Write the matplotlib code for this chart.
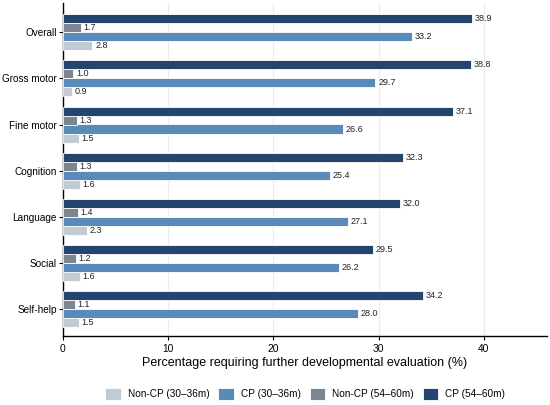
import numpy as np
import matplotlib
matplotlib.use('Agg')
import matplotlib.pyplot as plt

plt.rcParams['font.family'] = ['Liberation Sans', 'DejaVu Sans']

# ------------------
# data

domains = ['Overall', 'Gross motor', 'Fine motor', 'Cognition', 'Language', 'Social', 'Self-help']

noncp_30 = [2.8, 0.9, 1.5, 1.6, 2.3, 1.6, 1.5]
cp_30 = [33.2, 29.7, 26.6, 25.4, 27.1, 26.2, 28.0]
noncp_54 = [1.7, 1.0, 1.3, 1.3, 1.4, 1.2, 1.1]
cp_54 = [38.9, 38.8, 37.1, 32.3, 32.0, 29.5, 34.2]

series_names = ['Non-CP (30–36m)', 'CP (30–36m)', 'Non-CP (54–60m)', 'CP (54–60m)']
series_vals = [noncp_30, cp_30, noncp_54, cp_54]
colors = ['#c2cad3', '#5a8ab9', '#7d8690', '#24466e']

# offsets within a group (y axis inverted: negative = higher)
offsets = [0.292, 0.097, -0.097, -0.292]
bar_h = 0.195

fig = plt.figure(figsize=(5.5, 4.05), dpi=100)
ax = fig.add_axes((0.1145, 0.170, 0.88, 0.8226))

y = np.arange(len(domains))

for vals, name, col, off in zip(series_vals, series_names, colors, offsets):
    ax.barh(y + off, vals, height=bar_h, color=col, edgecolor='white', lw=0.6, label=name, zorder=3)
    for yi, v in zip(y, vals):
        ax.text(v + 0.25, yi + off, f'{v:.1f}', va='center', ha='left', fontsize=6.5, color='#222222', zorder=4)

ax.set_yticks(y)
ax.set_yticklabels(domains, fontsize=7.2)
ax.set_ylim(6.58, -0.63)

ax.set_xlim(0, 46)
ax.set_xticks([0, 10, 20, 30, 40])
ax.tick_params(axis='x', labelsize=7.4, length=3, width=0.8, pad=2.5)
ax.tick_params(axis='y', length=3, width=0.8, pad=1.5)
ax.set_xlabel('Percentage requiring further developmental evaluation (%)', fontsize=9.0, labelpad=2)

ax.grid(axis='x', color='#ebebeb', lw=0.8, zorder=0)
for s in ['top', 'right']:
    ax.spines[s].set_visible(False)
for s in ['left', 'bottom']:
    ax.spines[s].set_linewidth(1.0)
    ax.spines[s].set_color('black')

fig.legend(loc='center', bbox_to_anchor=(0.555, 0.027), ncol=4, frameon=False,
           fontsize=7.2, handlelength=1.55, handleheight=1.55, handletextpad=0.7, columnspacing=0.9)

fig.savefig('out.png', dpi=100)
